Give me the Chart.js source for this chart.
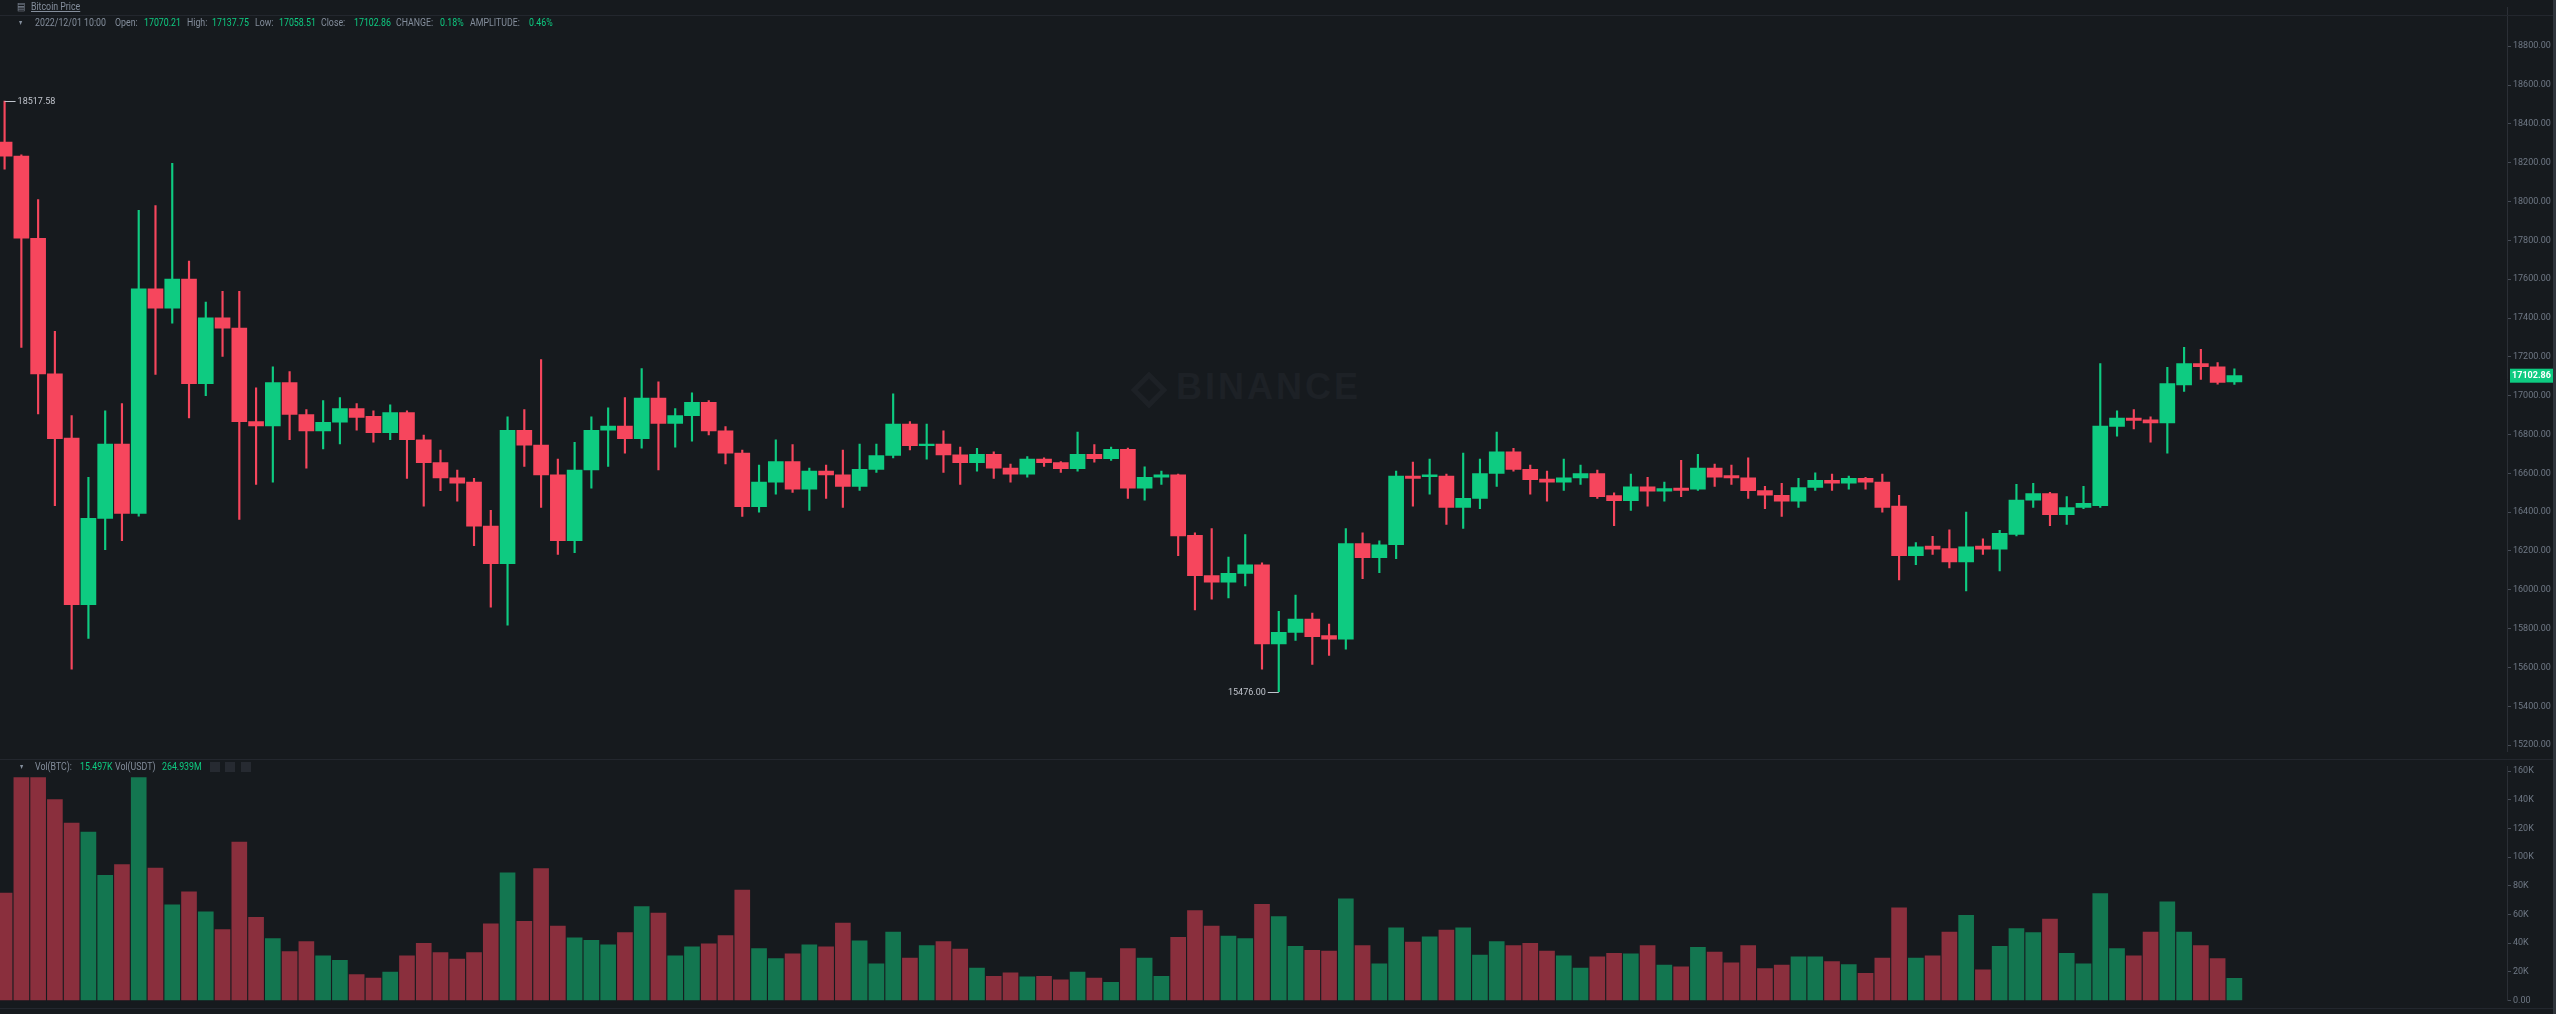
<!DOCTYPE html>
<html>
<head>
<meta charset="utf-8">
<script src="https://cdn.jsdelivr.net/npm/chart.js@4.4.1/dist/chart.umd.min.js"></script>
<style>
  html, body { margin:0; padding:0; background:#161a1e; width:2556px; height:1014px; overflow:hidden; }
  canvas { position:absolute; left:0; }
  #price { top:0; }
  #vol { top:759px; }
  .t { position:absolute; font-family:Roboto, sans-serif; font-size:11px; line-height:12px; color:#848e9c; white-space:nowrap; transform:scaleX(0.8); transform-origin:0 0; }
  .g { color:#0ecb81; }
  .box { position:absolute; width:10px; height:10px; background:#262a31; top:762px; }
  .hr { position:absolute; left:0; width:2553px; height:1px; background:#23272e; }
  #wm { position:absolute; left:1136px; top:366px; color:#1d2126; font:bold 36px 'Liberation Sans', Arial, sans-serif; letter-spacing:3px; }
  #wm span { display:inline-block; width:26px; height:26px; border:5px solid #1d2126; transform:rotate(45deg); margin-right:14px; vertical-align:-4px; box-sizing:border-box; }
</style>
</head>
<body>
<div id="wm"><span></span>BINANCE</div>
<canvas id="price" width="2556" height="759"></canvas>
<canvas id="vol" width="2556" height="249"></canvas>

<div class="hr" style="top:15px"></div>
<div class="hr" style="top:759px"></div>
<div class="hr" style="top:1008px"></div>
<div style="position:absolute;left:2553px;top:0;width:3px;height:1014px;background:#30353c"></div>

<div class="t" style="left:17px;top:1px;">&#9636;</div>
<div class="t" style="left:31px;top:1px;text-decoration:underline;">Bitcoin Price</div>

<div class="t" style="left:19px;top:17px;font-size:8px;">&#9662;</div>
<div class="t" style="left:35px;top:17px;">2022/12/01 10:00</div>
<div class="t" style="left:115px;top:17px;">Open:</div>
<div class="t g" style="left:144px;top:17px;">17070.21</div>
<div class="t" style="left:187px;top:17px;">High:</div>
<div class="t g" style="left:212px;top:17px;">17137.75</div>
<div class="t" style="left:255px;top:17px;">Low:</div>
<div class="t g" style="left:279px;top:17px;">17058.51</div>
<div class="t" style="left:321px;top:17px;">Close:</div>
<div class="t g" style="left:354px;top:17px;">17102.86</div>
<div class="t" style="left:396px;top:17px;">CHANGE:</div>
<div class="t g" style="left:440px;top:17px;">0.18%</div>
<div class="t" style="left:470px;top:17px;">AMPLITUDE:</div>
<div class="t g" style="left:529px;top:17px;">0.46%</div>

<div class="t" style="left:20px;top:761px;font-size:8px;">&#9662;</div>
<div class="t" style="left:35px;top:761px;">Vol(BTC):</div>
<div class="t g" style="left:80px;top:761px;">15.497K</div>
<div class="t" style="left:115px;top:761px;">Vol(USDT)</div>
<div class="t g" style="left:162px;top:761px;">264.939M</div>
<div class="box" style="left:210px"></div>
<div class="box" style="left:225px"></div>
<div class="box" style="left:241px"></div>

<script>
// hourly candles, oldest first
const opens = [
  18306, 18234, 17811, 17112, 16782, 15924, 16368, 16751, 16393, 17550,
  17451, 17600, 17062, 17401, 17348, 16866, 16844, 17068, 16903, 16819,
  16863, 16934, 16894, 16810, 16913, 16773, 16655, 16577, 16555, 16328,
  16135, 16822, 16745, 16592, 16253, 16617, 16822, 16844, 16779, 16987,
  16857, 16897, 16966, 16819, 16704, 16428, 16555, 16661, 16518, 16611,
  16592, 16533, 16620, 16692, 16854, 16742, 16751, 16695, 16655, 16698,
  16627, 16596, 16673, 16655, 16624, 16698, 16676, 16723, 16524, 16580,
  16592, 16281, 16073, 16039, 16085, 16129, 15722, 15781, 15849, 15765,
  15746, 16238, 16166, 16232, 16586, 16583, 16586, 16424, 16471, 16599,
  16711, 16620, 16571, 16555, 16577, 16599, 16486, 16459, 16530, 16508,
  16524, 16518, 16627, 16589, 16577, 16511, 16487, 16456, 16527, 16564,
  16549, 16574, 16555, 16431, 16176, 16225, 16213, 16144, 16225, 16210,
  16285, 16462, 16496, 16387, 16424, 16434, 16841, 16885, 16875, 16860,
  17056, 17165, 17149, 17070.21
];
const highs = [
  18517.58, 18240, 18010, 17332, 16897, 16580, 16922, 16959, 17955, 17979,
  18197, 17693, 17482, 17538, 17538, 17040, 17149, 17124, 16928, 16975,
  16990, 16959, 16922, 16953, 16922, 16797, 16720, 16617, 16574, 16409,
  16891, 16928, 17186, 16673, 16760, 16891, 16938, 16990, 17140, 17071,
  16934, 17015, 16975, 16841, 16720, 16642, 16773, 16748, 16627, 16642,
  16720, 16751, 16751, 17009, 16866, 16854, 16819, 16735, 16729, 16711,
  16648, 16686, 16680, 16661, 16813, 16748, 16735, 16730, 16633, 16611,
  16596, 16294, 16316, 16169, 16284, 16139, 15889, 15973, 15880, 15824,
  16316, 16294, 16253, 16611, 16658, 16673, 16596, 16704, 16673, 16813,
  16729, 16642, 16611, 16673, 16642, 16617, 16499, 16596, 16580, 16555,
  16667, 16698, 16648, 16642, 16680, 16533, 16549, 16574, 16602, 16596,
  16586, 16580, 16596, 16487, 16244, 16275, 16309, 16400, 16263, 16306,
  16543, 16549, 16502, 16480, 16533, 17165, 16922, 16928, 16891, 17146,
  17249, 17239, 17171, 17137.75
];
const lows = [
  18166, 17249, 16906, 16434, 15591, 15750, 16207, 16253, 16380, 17109,
  17373, 16885, 17000, 17202, 16362, 16543, 16555, 16773, 16627, 16726,
  16751, 16822, 16760, 16773, 16574, 16431, 16511, 16456, 16228, 15911,
  15818, 16636, 16424, 16182, 16191, 16524, 16636, 16704, 16729, 16617,
  16735, 16766, 16798, 16648, 16378, 16400, 16493, 16502, 16409, 16471,
  16424, 16512, 16605, 16680, 16720, 16673, 16605, 16543, 16611, 16574,
  16555, 16580, 16636, 16605, 16611, 16658, 16667, 16471, 16462, 16543,
  16176, 15896, 15952, 15958, 16020, 15591, 15476, 15740, 15616, 15662,
  15694, 16057, 16089, 16160, 16431, 16493, 16337, 16316, 16418, 16533,
  16611, 16493, 16456, 16512, 16543, 16471, 16331, 16409, 16431, 16456,
  16480, 16512, 16533, 16543, 16471, 16418, 16378, 16425, 16512, 16512,
  16518, 16518, 16400, 16051, 16129, 16182, 16113, 15995, 16182, 16098,
  16278, 16425, 16331, 16337, 16418, 16424, 16791, 16829, 16760, 16704,
  17022, 17084, 17059, 17058.51
];
const closes = [
  18234, 17811, 17112, 16779, 15924, 16368, 16751, 16393, 17550, 17451,
  17600, 17062, 17401, 17348, 16866, 16844, 17068, 16903, 16819, 16863,
  16934, 16888, 16810, 16913, 16773, 16655, 16577, 16549, 16328, 16135,
  16822, 16745, 16592, 16253, 16617, 16822, 16844, 16779, 16987, 16857,
  16897, 16966, 16819, 16704, 16428, 16555, 16661, 16518, 16611, 16592,
  16533, 16620, 16692, 16854, 16742, 16751, 16695, 16655, 16698, 16627,
  16596, 16673, 16655, 16624, 16698, 16676, 16723, 16524, 16580, 16592,
  16278, 16073, 16039, 16085, 16129, 15722, 15781, 15849, 15759, 15746,
  16238, 16166, 16232, 16586, 16574, 16592, 16424, 16471, 16599, 16711,
  16620, 16567, 16555, 16577, 16599, 16480, 16459, 16530, 16508, 16521,
  16512, 16627, 16580, 16577, 16511, 16487, 16456, 16527, 16564, 16549,
  16574, 16555, 16424, 16176, 16222, 16210, 16144, 16222, 16210, 16291,
  16462, 16496, 16387, 16424, 16446, 16844, 16885, 16872, 16860, 17062,
  17165, 17149, 17068, 17102.86
];
// volume in BTC
const volumes = [
  75000, 155500, 155500, 140200, 123700, 117500, 87400, 94900, 155500, 92400,
  66800, 75900, 61900, 49500, 110500, 58100, 43300, 34200, 41200, 31300,
  28000, 18100, 15700, 19800, 31300, 40000, 33400, 28900, 33400, 53600,
  89100, 55300, 92000, 52000, 43700, 42100, 38800, 47400, 65600, 61000,
  31300, 37500, 39600, 45400, 77100, 36300, 29300, 32600, 38800, 37500,
  54000, 41600, 25600, 47800, 29700, 38300, 41200, 35900, 22700, 16900,
  19400, 16500, 16900, 14400, 19800, 15700, 12800, 36300, 29700, 16900,
  44100, 62700, 52000, 45000, 43300, 67200, 58600, 37900, 35100, 34600,
  70900, 38300, 25600, 50700, 40800, 44500, 49100, 50700, 31700, 41200,
  38300, 40000, 34600, 31300, 22700, 30500, 33000, 32600, 38300, 24700,
  23500, 37100, 33800, 26400, 38300, 22300, 24700, 30500, 30500, 27200,
  25200, 19000, 29700, 64700, 29700, 31300, 47800, 59400, 21400, 37900,
  50300, 47400, 56900, 33000, 25600, 74600, 36300, 31300, 47800, 68900,
  47800, 38300, 29300, 15497
];
const priceTicks = [15200, 15400, 15600, 15800, 16000, 16200, 16400, 16600, 16800,
  17000, 17200, 17400, 17600, 17800, 18000, 18200, 18400, 18600, 18800];
const volTicks = [0, 20000, 40000, 60000, 80000, 100000, 120000, 140000, 160000];

const UP = '#0ecb81', DOWN = '#f6465d';
const UP_VOL = '#137650', DOWN_VOL = '#8a2f3d';
const isUp = closes.map((c, i) => c >= opens[i]);

Chart.defaults.font.family = 'Roboto, sans-serif';

const xAxis = {
  type: 'linear', display: false, offset: false,
  min: -0.274, max: 149.26
};
const axisRight = (ticks, fmt) => ({
  position: 'right',
  afterFit(s) { s.width = 49; },
  afterBuildTicks(s) { s.ticks = ticks.map(v => ({ value: v })); },
  border: { display: true, color: '#2b2f36' },
  grid: { drawOnChartArea: false, drawTicks: true, tickLength: 4, tickColor: '#474d57' },
  ticks: { color: '#6f7885', font: { size: 9 }, padding: 2, callback: fmt }
});

const markers = {
  id: 'markers',
  afterDatasetsDraw(chart) {
    const { ctx, scales: { x, y } } = chart;
    ctx.save();
    ctx.font = '9px Roboto';
    ctx.textBaseline = 'middle';
    ctx.strokeStyle = '#c0c4cc';
    ctx.fillStyle = '#c0c4cc';
    ctx.lineWidth = 1;
    const hi = highs.indexOf(Math.max(...highs));
    const lo = lows.indexOf(Math.min(...lows));
    let px = x.getPixelForValue(hi), py = Math.round(y.getPixelForValue(highs[hi])) + 0.5;
    ctx.beginPath(); ctx.moveTo(px, py); ctx.lineTo(px + 11, py); ctx.stroke();
    ctx.textAlign = 'left';
    ctx.fillText(highs[hi].toFixed(2), px + 13, py);
    px = x.getPixelForValue(lo); py = Math.round(y.getPixelForValue(lows[lo])) + 0.5;
    ctx.beginPath(); ctx.moveTo(px - 11, py); ctx.lineTo(px, py); ctx.stroke();
    ctx.textAlign = 'right';
    ctx.fillText(lows[lo].toFixed(2), px - 13, py);

    const last = closes[closes.length - 1];
    const ly = y.getPixelForValue(last);
    ctx.fillStyle = isUp[isUp.length - 1] ? UP : DOWN;
    ctx.fillRect(y.left + 3, ly - 7, 43, 14);
    ctx.fillStyle = '#ffffff';
    ctx.textAlign = 'center';
    ctx.font = 'bold 9px Roboto';
    ctx.fillText(last.toFixed(2), y.left + 24.5, ly + 0.5);
    ctx.restore();
  }
};

new Chart(document.getElementById('price'), {
  type: 'bar',
  data: {
    datasets: [
      {
        label: 'body',
        data: opens.map((o, i) => ({ x: i, y: [o, closes[i]] })),
        backgroundColor: isUp.map(u => u ? UP : DOWN),
        barThickness: 15, minBarLength: 1, grouped: false
      },
      {
        label: 'wick',
        data: highs.map((h, i) => ({ x: i, y: [lows[i], h] })),
        backgroundColor: isUp.map(u => u ? UP : DOWN),
        barThickness: 1.5, grouped: false
      }
    ]
  },
  options: {
    responsive: false, animation: false,
    layout: { padding: 0 },
    plugins: { legend: { display: false }, tooltip: { enabled: false } },
    scales: {
      x: xAxis,
      y: Object.assign(axisRight(priceTicks, v => v.toFixed(2)), { min: 15166.8, max: 18999.8 })
    }
  },
  plugins: [markers]
});

new Chart(document.getElementById('vol'), {
  type: 'bar',
  data: {
    datasets: [{
      label: 'volume',
      data: volumes.map((v, i) => ({ x: i, y: v })),
      backgroundColor: isUp.map(u => u ? UP_VOL : DOWN_VOL),
      barThickness: 15, grouped: false, clip: 0
    }]
  },
  options: {
    responsive: false, animation: false,
    layout: { padding: { bottom: 4 } },
    plugins: { legend: { display: false }, tooltip: { enabled: false } },
    scales: {
      x: xAxis,
      y: Object.assign(axisRight(volTicks, v => v === 0 ? '0.00' : (v / 1000) + 'K'), { min: 0, max: 163300 })
    }
  }
});
</script>
</body>
</html>
